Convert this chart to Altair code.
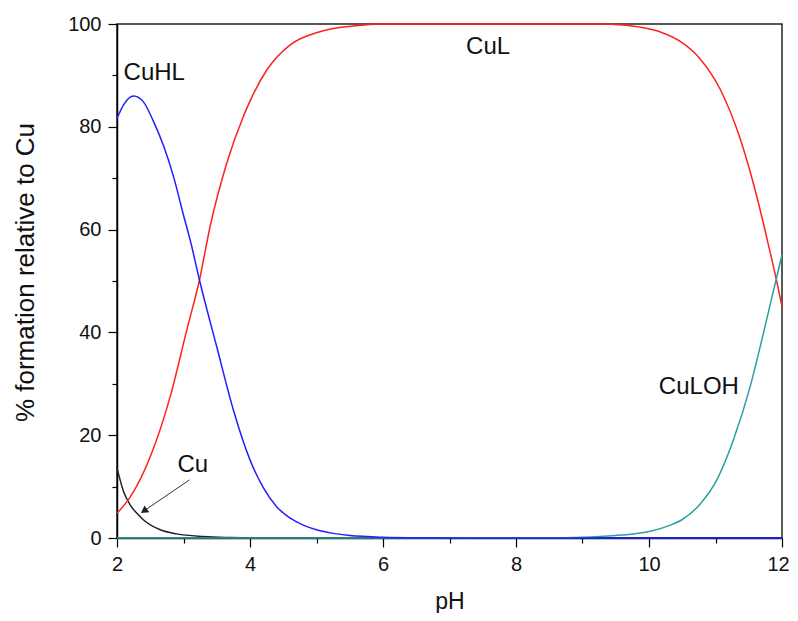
import altair as alt
import pandas as pd

# ---- data ----
cu_ph = [2.0, 2.1, 2.2, 2.3, 2.4, 2.65, 2.9, 3.3, 3.7, 4.2, 5.0, 12.0]
cu_val = [13.6, 9.0, 6.4, 4.8, 3.5, 1.6, 0.8, 0.3, 0.1, 0.0, 0.0, 0.0]

cuhl_ph = [2.0, 2.1, 2.25, 2.4, 2.55, 2.7, 2.85, 3.0, 3.1, 3.24, 3.5, 3.75, 4.0,
           4.2, 4.4, 4.6, 4.8, 5.0, 5.25, 5.5, 5.75, 6.0, 6.5, 7.0, 12.0]
cuhl_val = [81.6, 84.3, 86.0, 84.8, 81.0, 76.3, 70.3, 62.8, 58.0, 50.2, 37.2, 24.9, 15.2,
            9.8, 6.1, 3.9, 2.5, 1.6, 0.9, 0.5, 0.3, 0.15, 0.05, 0.0, 0.0]

cul_ph = [2.0, 2.2, 2.5, 2.8, 3.05, 3.24, 3.4, 3.65, 3.9, 4.0, 4.25, 4.6, 5.05, 5.55,
          6.0, 9.3, 9.6, 9.9, 10.2, 10.47, 10.77, 11.07, 11.36, 11.62, 11.8, 11.92, 12.0]
cul_val = [4.8, 8.0, 15.8, 27.5, 40.5, 50.2, 60.6, 72.9, 82.0, 85.0, 91.0, 95.9, 98.5, 99.6,
           100.0, 100.0, 99.8, 99.3, 98.3, 96.6, 93.2, 87.3, 78.1, 66.5, 56.8, 50.0, 45.0]

culoh_ph = [2.0, 8.5, 9.0, 9.26, 9.5, 9.76, 10.02, 10.32, 10.5, 10.77, 11.02, 11.27, 11.52,
            11.72, 11.91, 12.0]
culoh_val = [0.0, 0.05, 0.15, 0.3, 0.5, 0.8, 1.3, 2.5, 3.6, 6.6, 11.3, 19.1, 29.4,
             39.8, 50.2, 55.1]

labels = ["CuHL", "CuL", "CuLOH", "Cu"]
label_ph = [2.56, 7.58, 10.75, 3.14]
label_val = [90.5, 95.5, 29.4, 14.2]

arrow_ph = [3.09]
arrow_val = [11.3]
arrow_ph2 = [2.42]
arrow_val2 = [5.4]

x_major = [2, 4, 6, 8, 10, 12]
x_minor = [3, 5, 7, 9, 11]
y_major = [0, 20, 40, 60, 80, 100]
y_minor = [10, 30, 50, 70, 90]

FONT = "Liberation Sans"
xs = alt.Scale(domain=[2, 12], nice=False, zero=False)
ys = alt.Scale(domain=[0, 100], nice=False)


def line(ph, val, color, xaxis=None, yaxis=None):
    df = pd.DataFrame({"pH": ph, "v": val})
    return alt.Chart(df).mark_line(color=color, strokeWidth=1.5, interpolate="monotone").encode(
        x=alt.X("pH:Q", scale=xs, axis=xaxis),
        y=alt.Y("v:Q", scale=ys, axis=yaxis),
    )


x_main = alt.Axis(values=x_major, orient="bottom", title="pH", tickSize=9, tickWidth=1.2,
                  tickColor="black", domainColor="black", domainWidth=1.5,
                  labelFontSize=20, labelFont=FONT, labelPadding=7, labelColor="#111",
                  labelOffset={"condition": {"test": "datum.value == 12", "value": -4}, "value": 0},
                  titleFont=FONT, titleFontSize=23, titleFontWeight="normal", titleColor="#111",
                  titlePadding=16, grid=False, labelFlush=False)
y_main = alt.Axis(values=y_major, orient="left", title="% formation relative to Cu", tickSize=9,
                  tickWidth=1.2, tickColor="black", domainColor="black", domainWidth=1.5,
                  labelFontSize=20, labelFont=FONT, labelPadding=7, labelColor="#111",
                  titleFont=FONT, titleFontSize=26, titleFontWeight="normal", titleColor="#111",
                  titlePadding=29, titleY=248, grid=False, labelFlush=False)
x_min = alt.Axis(values=x_minor, orient="bottom", title="", tickSize=5, tickWidth=1.2,
                 tickColor="black", labels=False, domain=False, grid=False)
y_min = alt.Axis(values=y_minor, orient="left", title="", tickSize=5, tickWidth=1.2,
                 tickColor="black", labels=False, domain=False, grid=False)

black = line(cu_ph, cu_val, "#222222", x_main, y_main)
red = line(cul_ph, cul_val, "#ff2020", x_min, y_min)
teal = line(culoh_ph, culoh_val, "#2a9f9f")
blue = line(cuhl_ph, cuhl_val, "#2020ff")

lab_df = pd.DataFrame({"pH": label_ph, "v": label_val, "t": labels})
texts = alt.Chart(lab_df).mark_text(font=FONT, fontSize=24, color="#111").encode(
    x=alt.X("pH:Q", scale=xs, axis=None),
    y=alt.Y("v:Q", scale=ys, axis=None),
    text="t:N",
)

arr_df = pd.DataFrame({"pH": arrow_ph, "v": arrow_val, "pH2": arrow_ph2, "v2": arrow_val2})
arrow_line = alt.Chart(arr_df).mark_rule(color="#333333", strokeWidth=1).encode(
    x=alt.X("pH:Q", scale=xs, axis=None),
    y=alt.Y("v:Q", scale=ys, axis=None),
    x2="pH2:Q",
    y2="v2:Q",
)
arrow_head = alt.Chart(arr_df).mark_point(shape="triangle", filled=True, color="#222222",
                                          size=70, angle=235, opacity=1).encode(
    x=alt.X("pH2:Q", scale=xs, axis=None),
    y=alt.Y("v2:Q", scale=ys, axis=None),
)

chart = alt.layer(black, red, teal, blue, texts, arrow_line, arrow_head).resolve_axis(
    x="independent", y="independent"
).properties(
    width=665,
    height=514,
    autosize=alt.AutoSizeParams(type="none"),
    padding={"left": 109, "top": 16, "right": 8, "bottom": 75},
).configure_view(stroke="#222222", strokeWidth=1.5)

chart.save("out.html", embed_options={"renderer": "svg", "actions": False})
